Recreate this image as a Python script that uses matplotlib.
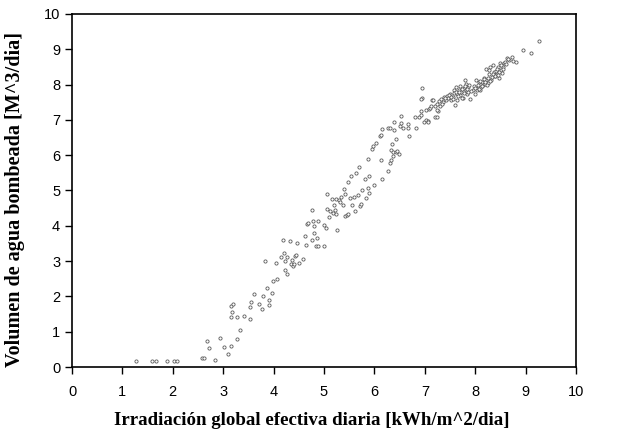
import matplotlib
matplotlib.use("Agg")
import matplotlib.pyplot as plt
import numpy as np

# Irradiación global efectiva diaria [kWh/m^2/dia] vs volumen bombeado [m^3/dia]
irradiacion = [
    1.26, 1.59, 1.67, 1.89, 2.02, 2.08,
    2.58, 2.62, 2.83, 2.67, 2.71, 2.94, 3.02, 3.10, 3.16, 3.28, 3.33,
    3.15, 3.17, 3.16, 3.19, 3.28, 3.41, 3.53, 3.54, 3.56, 3.62, 3.71, 3.76,
    3.78, 3.86, 3.90, 3.91, 3.97, 3.82, 3.99, 4.06, 4.05, 4.15, 4.21, 4.18,
    4.22, 4.23, 4.27, 4.26, 4.33, 4.35, 4.36, 4.39, 4.41, 4.43, 4.45, 4.46,
    4.50, 4.58, 4.62, 4.64, 4.66, 4.68, 4.77, 4.77, 4.79, 4.80, 4.81, 4.85,
    4.88, 4.87, 4.89, 4.99, 4.99, 5.03, 5.05, 5.06, 5.09, 5.11, 5.15, 5.17,
    5.19, 5.22, 5.24, 5.24, 5.26, 5.30, 5.31, 5.33, 5.38, 5.40, 5.41, 5.42,
    5.46, 5.48, 5.48, 5.51, 5.54, 5.55, 5.60, 5.62, 5.64, 5.68, 5.69, 5.72,
    5.74, 5.76, 5.81, 5.84, 5.87, 5.88, 5.89, 5.89, 5.95, 5.97, 5.99, 6.03,
    6.12, 6.14, 6.15, 6.14, 6.16, 6.26, 6.26, 6.30, 6.30, 6.32, 6.33, 6.34,
    6.36, 6.37, 6.39, 6.39, 6.42, 6.42, 6.45, 6.49, 6.51, 6.52, 6.53, 6.57,
    6.67, 6.67, 6.68, 6.80, 6.83, 6.88, 6.92, 6.93, 6.95, 6.94, 6.93, 6.99,
    7.02, 7.06, 7.03, 7.07, 7.08, 7.10, 7.13, 7.15, 7.17, 7.21, 7.24, 7.26,
    7.24, 7.28, 7.30, 7.33, 7.36, 7.38, 7.42, 7.44, 7.46, 7.49, 7.51, 7.55,
    7.57, 7.59, 7.61, 7.63, 7.64, 7.67, 7.69, 7.70, 7.72, 7.76, 7.78, 7.79,
    7.81, 7.82, 7.84, 7.86, 7.90, 7.95, 7.99, 8.02, 8.04, 8.06, 8.08, 8.09,
    8.11, 8.13, 8.16, 8.17, 8.19, 8.21, 8.22, 8.25, 8.27, 8.29, 8.31, 8.33,
    8.35, 8.37, 8.39, 8.41, 8.43, 8.46, 8.47, 8.49, 8.51, 8.53, 8.55, 8.58,
    8.60, 8.63, 8.68, 8.72, 8.74, 8.80, 8.95, 9.11, 9.27,
    7.35, 7.40, 7.47, 7.52, 7.58, 7.62, 7.66, 7.68, 7.74, 7.77, 7.80, 7.85,
    7.88, 7.92, 7.97, 8.00, 8.05, 8.10, 8.14, 8.18, 8.23, 8.26, 8.30, 8.36,
    8.40, 8.44, 8.48, 8.52, 8.56, 8.62, 7.20, 7.25, 7.55, 7.73, 7.83, 8.07,
    8.20, 8.28, 8.46, 8.66,
]
volumen = [
    0.17, 0.17, 0.17, 0.17, 0.17, 0.17,
    0.26, 0.26, 0.21, 0.73, 0.55, 0.82, 0.57, 0.38, 0.59, 0.80, 1.06,
    1.42, 1.57, 1.72, 1.78, 1.42, 1.45, 1.36, 1.69, 1.84, 2.07, 1.78, 1.65,
    2.02, 2.23, 1.89, 1.76, 2.09, 3.00, 2.43, 2.50, 2.96, 3.13, 3.24, 3.61,
    2.99, 2.76, 2.64, 3.13, 3.57, 2.93, 3.04, 2.85, 2.93, 3.14, 3.16, 3.52,
    2.96, 3.05, 3.71, 3.47, 4.05, 4.09, 4.45, 3.61, 4.13, 3.80, 4.00, 3.44,
    3.44, 3.66, 4.14, 3.44, 4.03, 3.93, 4.89, 4.48, 4.24, 4.42, 4.77, 4.37,
    4.58, 4.46, 4.76, 4.34, 3.87, 4.74, 4.66, 4.82, 4.59, 5.04, 4.91, 4.28,
    4.30, 4.32, 5.24, 4.80, 5.42, 4.58, 4.82, 4.42, 5.50, 4.87, 5.66, 4.56,
    4.63, 5.02, 5.33, 4.78, 5.07, 5.88, 5.41, 4.93, 6.18, 6.27, 5.15, 6.35,
    6.55, 6.57, 6.75, 5.85, 5.32, 6.77, 5.56, 6.77, 5.79, 5.87, 6.14, 6.31,
    5.97, 6.09, 6.94, 6.72, 6.09, 6.47, 6.11, 6.04, 6.82, 7.12, 6.91, 6.78,
    6.87, 6.76, 6.55, 7.09, 6.77, 7.08, 7.13, 7.25, 7.91, 7.61, 7.59, 6.93,
    6.99, 6.97, 7.27, 6.94, 7.32, 7.35, 7.38, 7.55, 7.57, 7.08, 7.08, 7.24,
    7.29, 7.54, 7.38, 7.60, 7.51, 7.65, 7.55, 7.69, 7.61, 7.74, 7.55, 7.65,
    7.84, 7.41, 7.93, 7.72, 7.57, 7.86, 7.95, 7.70, 7.79, 7.63, 7.90, 8.12,
    7.84, 8.03, 7.72, 7.93, 7.60, 7.86, 7.72, 8.12, 7.84, 7.91, 8.07, 7.86,
    7.93, 8.08, 7.98, 8.20, 8.03, 8.45, 8.12, 8.05, 8.29, 8.50, 8.14, 8.22,
    8.56, 8.35, 8.24, 8.39, 8.31, 8.50, 8.20, 8.61, 8.40, 8.33, 8.50, 8.61,
    8.64, 8.75, 8.69, 8.78, 8.67, 8.65, 8.97, 8.90, 9.24,
    7.45, 7.62, 7.70, 7.66, 7.76, 7.80, 7.68, 7.78, 7.87, 7.75, 7.95, 7.80,
    7.98, 7.82, 7.95, 7.90, 8.00, 8.10, 7.95, 8.15, 8.00, 8.18, 8.10, 8.30,
    8.25, 8.45, 8.35, 8.55, 8.45, 8.58, 7.40, 7.45, 7.58, 7.62, 7.88, 7.87,
    8.08, 8.40, 8.28, 8.72,
]

fig = plt.figure(figsize=(6.24, 4.48), dpi=100)
ax = fig.add_axes([0.1154, 0.1808, 0.8077, 0.788])

ax.plot(irradiacion, volumen, linestyle="none", marker="o", markersize=2.3,
        markerfacecolor="white", markeredgecolor="#5a5a5a", markeredgewidth=0.6)

ax.set_xlim(0, 10)
ax.set_ylim(0, 10)
ax.set_xticks(range(0, 11))
ax.set_yticks(range(0, 11))
ax.tick_params(direction="out", length=5, width=1, labelsize=10.5, colors="black")
ax.tick_params(axis="x", pad=8)
for lbl in ax.get_xticklabels() + ax.get_yticklabels():
    lbl.set_family("Liberation Sans")
for sp in ax.spines.values():
    sp.set_linewidth(1.2)
    sp.set_color("black")

fig.text(0.5, 0.062, "Irradiación global efectiva diaria [kWh/m^2/dia]",
         ha="center", va="center", family="Liberation Serif",
         fontweight="bold", fontsize=13.6)
fig.text(0.024, 0.554, "Volumen de agua bombeada [M^3/dia]",
         ha="center", va="center", rotation=90, family="Liberation Serif",
         fontweight="bold", fontsize=14.5)

fig.savefig("out.png", dpi=100)
